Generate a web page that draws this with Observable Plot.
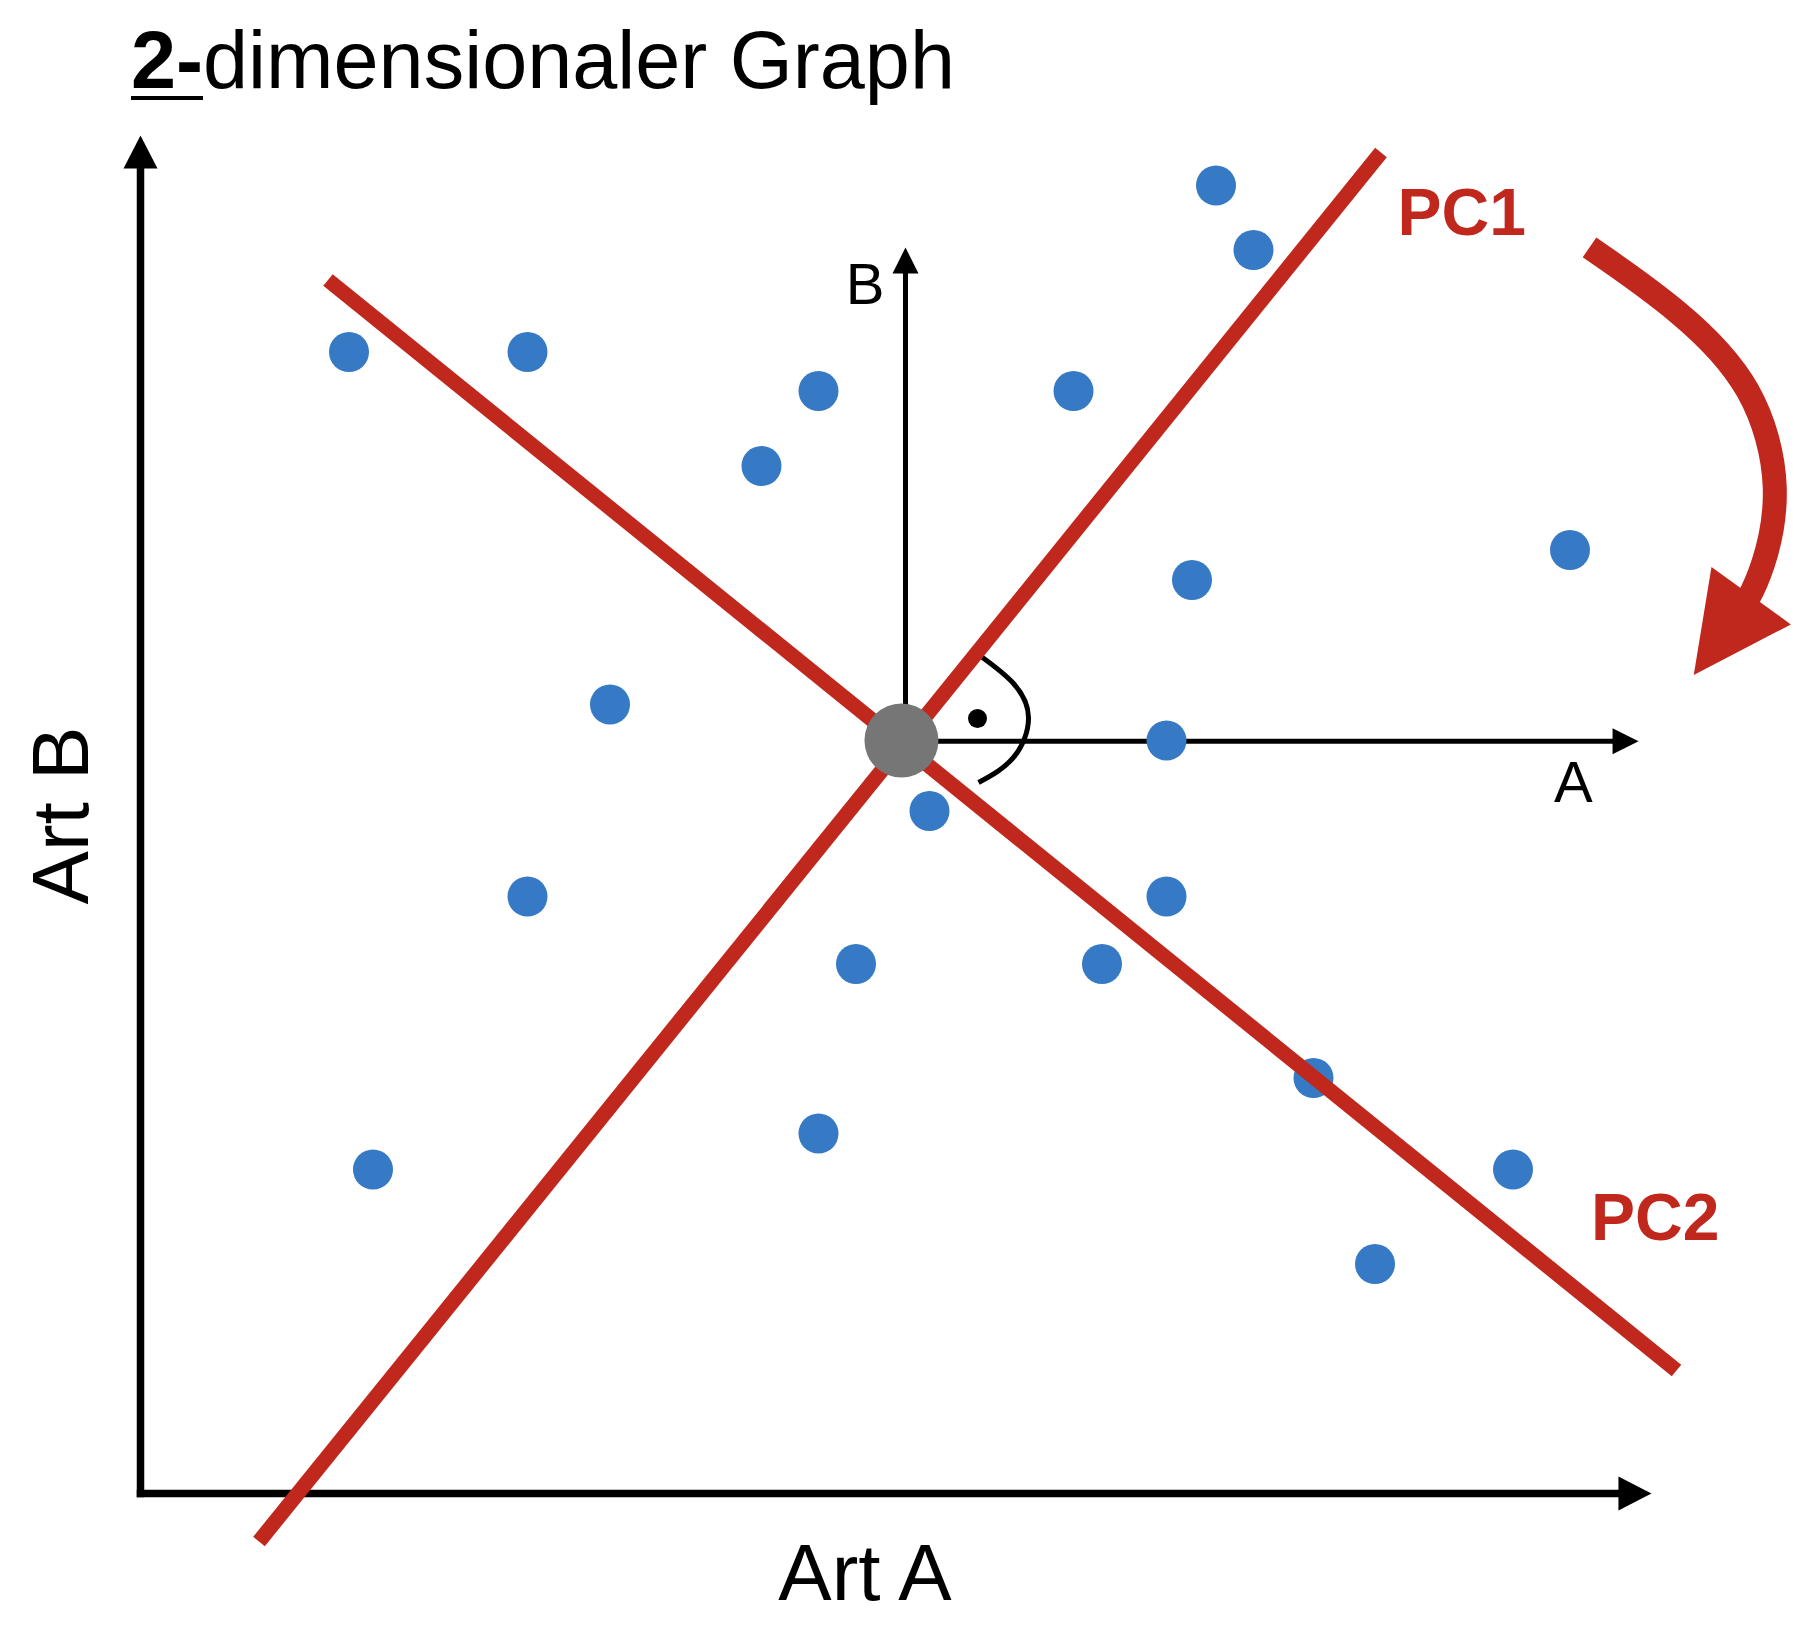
<!DOCTYPE html>
<html>
<head>
<meta charset="utf-8">
<script src="https://cdn.jsdelivr.net/npm/d3@7"></script>
<script src="https://cdn.jsdelivr.net/npm/@observablehq/plot@0.6"></script>
<style>
  body { margin: 0; background: #fff; }
  #wrap { position: relative; width: 1794px; height: 1628px; overflow: hidden; }
  #title { position: absolute; left: 131px; top: 20px; font: 81px/1 'Liberation Sans', Arial, Helvetica, sans-serif; color: #000; white-space: nowrap; z-index: 2; }
  #title u { font-weight: bold; text-decoration-thickness: 4px; text-underline-offset: 8px; }
  #chart { position: absolute; left: 0; top: 0; }
</style>
</head>
<body>
<div id="wrap">
  <div id="title"><u>2-</u>dimensionaler Graph</div>
  <div id="chart"></div>
</div>
<script>
// ---------- data (Art A / Art B units) ----------
const artA = [71.7, 74.2, 13.9, 25.8, 45.2, 62.2, 41.4, 95.3, 70.1, 31.3, 68.4, 52.6, 25.8, 68.4, 47.7, 64.1, 78.2, 45.2, 15.5, 91.5, 82.3];
const artB = [87.2, 82.9, 76.1, 76.1, 73.5, 73.5, 68.5, 62.9, 60.9, 52.6, 50.2, 45.5, 39.8, 39.8, 35.3, 35.3, 27.7, 24.0, 21.6, 21.6, 15.3];

const centerA = 50.73, centerB = 50.2;

const pcNames = ["PC1", "PC2"];
const pcA1 = [7.9, 12.5];
const pcB1 = [-3.2, 80.9];
const pcA2 = [82.7, 102.4];
const pcB2 = [89.4, 8.2];
const pcLabelA = [83.8, 96.7];
const pcLabelB = [83.93, 16.87];

// main axes (origin -> tips)
const mainOrigin = [0, 0];
const mainTipA = [100.73, 0];
const mainTipB = [0, 90.53];
const mainAxisNames = ["Art A", "Art B"];
const mainLabelA = [48.3, -3.53];
const mainLabelB = [-7.13, 45.2];

// local axes at the centre
const localOrigin = [51.0, 50.15];
const localTipA = [99.87, 50.15];
const localTipB = [51.0, 83.07];
const localNames = ["A", "B"];
const localLabelA = [95.53, 48.3];
const localLabelB = [46.13, 79.27];

// rotation arrow (red curved arrow, B-spline control points)
const rotA = [96.6, 102.67, 107.67, 109.47, 108.13, 107.0];
const rotB = [83.07, 78.87, 73.87, 66.87, 61.4, 59.33];
const rotTip = [103.55, 54.56];

// right-angle marker
const angleA = [56.13, 58.2, 59.2, 58.2, 55.87];
const angleB = [55.73, 54.0, 51.73, 49.07, 47.4];
const angleDot = [55.8, 51.67];

// ---------- helpers ----------
const XR = [140, 1640], YR = [1493, -7];
const pxPerUnit = (XR[1] - XR[0]) / 100;
const RED = "#c0281e", BLUE = "#3679c4", GREY = "#767676";
const FONT = "'Liberation Sans', Arial, Helvetica, sans-serif";

function headSymbol(len, half) {
  return { draw(ctx) { ctx.moveTo(0, 0); ctx.lineTo(-len, -half); ctx.lineTo(-len, half); ctx.closePath(); } };
}
function arrowRow(from, tip, headLen) {
  const dx = tip[0] - from[0], dy = tip[1] - from[1];
  const L = Math.hypot(dx, dy);
  const s = (headLen * 0.85) / pxPerUnit;
  return {
    x1: from[0], y1: from[1],
    x2: tip[0] - dx / L * s, y2: tip[1] - dy / L * s,
    tx: tip[0], ty: tip[1],
    angle: Math.atan2(-dy, dx) * 180 / Math.PI
  };
}

const points = artA.map((a, i) => ({a, b: artB[i]}));
const pcs = pcNames.map((n, i) => ({n, x1: pcA1[i], y1: pcB1[i], x2: pcA2[i], y2: pcB2[i], lx: pcLabelA[i], ly: pcLabelB[i]}));
const mainArrows = [arrowRow(mainOrigin, mainTipA, 33), arrowRow(mainOrigin, mainTipB, 33)];
const localArrows = [arrowRow(localOrigin, localTipA, 26), arrowRow(localOrigin, localTipB, 26)];
const mainLabels = mainAxisNames.map((t, i) => ({t, x: mainLabelA[i], y: mainLabelB[i], r: i === 0 ? 0 : -90}));
const localLabels = localNames.map((t, i) => ({t, x: localLabelA[i], y: localLabelB[i]}));
const rotPath = rotA.map((a, i) => ({a, b: rotB[i]}));
const lastRot = rotPath[rotPath.length - 1];
const rotHead = [{x: rotTip[0], y: rotTip[1], angle: Math.atan2(-(rotTip[1] - lastRot.b), rotTip[0] - lastRot.a) * 180 / Math.PI}];
const anglePath = angleA.map((a, i) => ({a, b: angleB[i]}));

const chart = Plot.plot({
  width: 1794,
  height: 1628,
  margin: 0,
  x: {domain: [0, 100], range: XR, axis: null},
  y: {domain: [0, 100], range: YR, axis: null},
  style: {background: "white", fontFamily: FONT, overflow: "visible"},
  marks: [
    // main axes
    Plot.link(mainArrows, {x1: "x1", y1: "y1", x2: "x2", y2: "y2", stroke: "black", strokeWidth: 7.5, strokeLinecap: "square"}),
    Plot.dot(mainArrows, {x: "tx", y: "ty", rotate: "angle", symbol: headSymbol(33, 17), fill: "black", stroke: "none"}),
    // local axes
    Plot.link(localArrows, {x1: "x1", y1: "y1", x2: "x2", y2: "y2", stroke: "black", strokeWidth: 5}),
    Plot.dot(localArrows, {x: "tx", y: "ty", rotate: "angle", symbol: headSymbol(26, 13), fill: "black", stroke: "none"}),
    // data points
    Plot.dot(points, {x: "a", y: "b", r: 20, fill: BLUE, stroke: "none"}),
    // principal components
    Plot.link(pcs, {x1: "x1", y1: "y1", x2: "x2", y2: "y2", stroke: RED, strokeWidth: 15, strokeLinecap: "butt"}),
    Plot.text(pcs, {x: "lx", y: "ly", text: "n", fill: RED, fontSize: 66, fontWeight: "bold", textAnchor: "start", lineAnchor: "bottom", fontFamily: FONT}),
    // rotation arrow
    Plot.line(rotPath, {x: "a", y: "b", curve: "basis", stroke: RED, strokeWidth: 24, strokeLinecap: "butt", strokeLinejoin: "round"}),
    Plot.dot(rotHead, {x: "x", y: "y", rotate: "angle", symbol: headSymbol(98, 49), fill: RED, stroke: "none"}),
    // centre
    Plot.dot([{a: centerA, b: centerB}], {x: "a", y: "b", r: 37, fill: GREY, stroke: "none"}),
    // right-angle marker
    Plot.line(anglePath, {x: "a", y: "b", curve: "natural", stroke: "black", strokeWidth: 5, strokeLinecap: "butt"}),
    Plot.dot([{a: angleDot[0], b: angleDot[1]}], {x: "a", y: "b", r: 9.5, fill: "black", stroke: "none"}),
    // labels
    Plot.text(mainLabels, {x: "x", y: "y", text: "t", rotate: "r", fontSize: 80, textAnchor: "middle", lineAnchor: "bottom", fill: "black", fontFamily: FONT}),
    Plot.text(localLabels, {x: "x", y: "y", text: "t", fontSize: 58, textAnchor: "middle", lineAnchor: "bottom", fill: "black", fontFamily: FONT})
  ]
});
document.getElementById("chart").append(chart);
</script>
</body>
</html>
